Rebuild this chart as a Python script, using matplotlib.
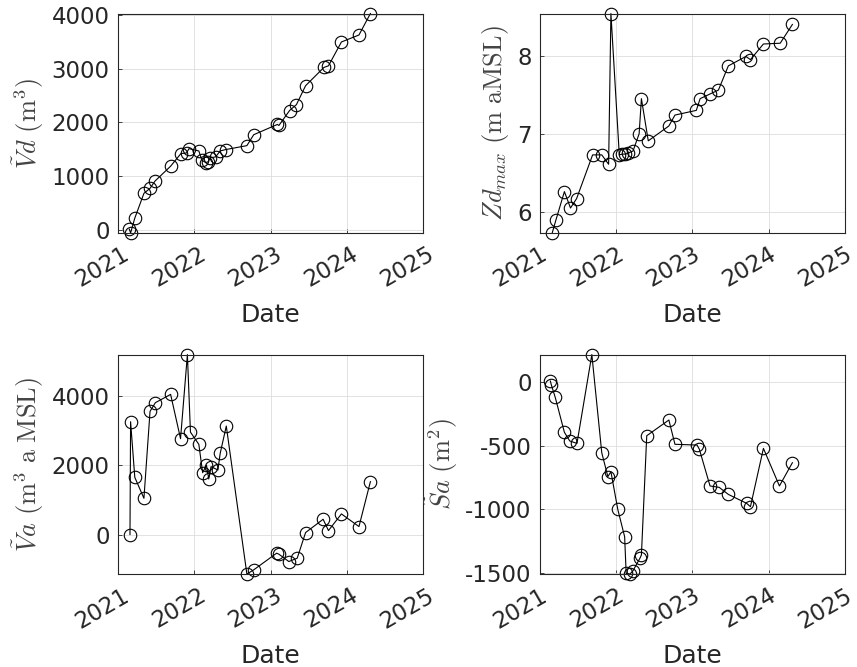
import matplotlib
matplotlib.use("Agg")
import matplotlib.pyplot as plt
from matplotlib.transforms import ScaledTranslation

plt.rcParams['mathtext.fontset'] = 'cm'
plt.rcParams['font.family'] = ['DejaVu Sans']
plt.rcParams['axes.unicode_minus'] = False

# Panel 1: Vd
vd_dates = [2021.148, 2021.165, 2021.22, 2021.34, 2021.42, 2021.485, 2021.69, 2021.825,
            2021.90, 2021.93, 2022.06, 2022.10, 2022.15, 2022.18, 2022.21, 2022.28,
            2022.34, 2022.41, 2022.69, 2022.78, 2023.09, 2023.11, 2023.25, 2023.34,
            2023.46, 2023.70, 2023.76, 2023.93, 2024.16, 2024.31]
vd_vals = [12, -60, 216, 679, 772, 907, 1185, 1420, 1432, 1512, 1469, 1296, 1253, 1265,
           1340, 1358, 1469, 1494, 1568, 1772, 1963, 1944, 2222, 2333, 2685, 3025, 3056,
           3500, 3630, 4030]

# Panel 2: Zd_max
zd_dates = [2021.16, 2021.21, 2021.32, 2021.40, 2021.48, 2021.69, 2021.81, 2021.90,
            2021.93, 2022.04, 2022.08, 2022.12, 2022.15, 2022.22, 2022.30, 2022.33,
            2022.42, 2022.69, 2022.77, 2023.05, 2023.10, 2023.23, 2023.34, 2023.47,
            2023.70, 2023.76, 2023.93, 2024.15, 2024.31]
zd_vals = [5.73, 5.90, 6.26, 6.05, 6.17, 6.73, 6.73, 6.61, 8.54, 6.73, 6.74, 6.74, 6.75,
           6.78, 7.00, 7.45, 6.91, 7.10, 7.24, 7.30, 7.45, 7.51, 7.56, 7.87, 7.99, 7.95,
           8.15, 8.16, 8.40]

# Panel 3: Va
va_dates = [2021.157, 2021.165, 2021.22, 2021.34, 2021.42, 2021.49, 2021.69, 2021.82,
            2021.91, 2021.95, 2022.06, 2022.11, 2022.16, 2022.19, 2022.22, 2022.31,
            2022.34, 2022.42, 2022.69, 2022.78, 2023.08, 2023.11, 2023.24, 2023.35,
            2023.46, 2023.69, 2023.76, 2023.93, 2024.16, 2024.31]
va_vals = [0, 3260, 1654, 1048, 3560, 3810, 4050, 2770, 5200, 2960, 2606, 1788, 2010,
           1606, 1962, 1865, 2346, 3135, -1140, -1019, -538, -567, -779, -683, 58, 442,
           115, 596, 231, 1529]

# Panel 4: Sa
sa_dates = [2021.136, 2021.149, 2021.20, 2021.32, 2021.39, 2021.485, 2021.68, 2021.81,
            2021.89, 2021.93, 2022.02, 2022.11, 2022.13, 2022.18, 2022.22, 2022.31,
            2022.33, 2022.40, 2022.69, 2022.77, 2023.06, 2023.09, 2023.23, 2023.35,
            2023.47, 2023.71, 2023.76, 2023.93, 2024.14, 2024.31]
sa_vals = [5, -26, -123, -396, -464, -483, 212, -556, -743, -704, -999, -1213, -1500,
           -1505, -1479, -1382, -1356, -423, -300, -490, -496, -529, -816, -827, -882,
           -952, -978, -522, -816, -634]

year_ticks = [2021, 2022, 2023, 2024, 2025]
year_labels = ['2021', '2022', '2023', '2024', '2025']

ylabels = [r'$\tilde{V}d\ (\mathrm{m}^3)$',
           r'$Zd_{max}\ (\mathrm{m\ aMSL})$',
           r'$\tilde{V}a\ (\mathrm{m}^3\ \mathrm{a\ MSL})$',
           r'$\tilde{S}a\ (\mathrm{m}^2)$']
yticks = [[0, 1000, 2000, 3000, 4000],
          [6, 7, 8],
          [0, 2000, 4000],
          [0, -500, -1000, -1500]]

series = [(vd_dates, vd_vals), (zd_dates, zd_vals), (va_dates, va_vals), (sa_dates, sa_vals)]

fig = plt.figure(figsize=(8.57, 6.67), dpi=100)
W = 0.3559
H = 0.329
positions = [[0.1377, 0.6507, W, H], [0.6301, 0.6507, W, H],
             [0.1377, 0.1394, W, H], [0.6301, 0.1394, W, H]]
dx_px = [4, 0, 4, 0]
dark = '#262626'

for pos, (d, v), yl, yt, dx in zip(positions, series, ylabels, yticks, dx_px):
    ax = fig.add_axes(pos)
    ax.plot(d, v, '-o', color='black', lw=0.8, ms=9, mfc='none', mec='black',
            mew=0.8, clip_on=False)
    ax.set_xlim(2021, 2025)
    ax.set_ylim(min(v), max(v))
    ax.set_xticks(year_ticks)
    ax.set_yticks(yt)
    ax.grid(True, color='#dddddd', lw=0.6)
    ax.set_axisbelow(True)
    ax.tick_params(direction='in', length=3, width=0.6, colors=dark, labelsize=16.5)
    ax.tick_params(axis='y', pad=6)
    ax.set_xticklabels(year_labels, rotation=30, ha='right', rotation_mode='anchor')
    shift = ScaledTranslation(dx / 100, -5 / 100, fig.dpi_scale_trans)
    for lab in ax.get_xticklabels():
        lab.set_transform(lab.get_transform() + shift)
    for s in ax.spines.values():
        s.set_color(dark)
        s.set_linewidth(0.8)
    ax.set_xlabel('Date', fontsize=18, color=dark, labelpad=8)
    ax.set_ylabel(yl, fontsize=19, color='#444444', labelpad=4)

fig.savefig('out.png', dpi=100)
